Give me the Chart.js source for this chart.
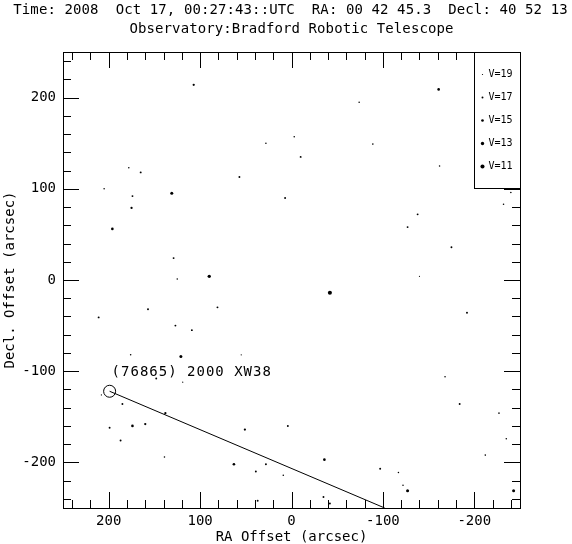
<!DOCTYPE html>
<html>
<head>
<meta charset="utf-8">
<script src="https://cdn.jsdelivr.net/npm/chart.js@4/dist/chart.umd.min.js"></script>
<style>
  body { margin: 0; background: #fff; }
</style>
</head>
<body>
<canvas id="finderChart" width="572" height="544"></canvas>
<script>
const titleLines = [
  "Time: 2008  Oct 17, 00:27:43::UTC  RA: 00 42 45.3  Decl: 40 52 13",
  "Observatory:Bradford Robotic Telescope"
];

// star field: offsets in arcsec and V magnitude
const raOffset = [107, -74, -240, -161, 28, -3, -10, -89, -162, 7, -138, -127, -175, -140, -232,
  178, 165, 57, 205, 174, 131, 175, 196, 129, 90, 125, 81, 211, 157, 127, 109, 176, 121, 55,
  148, 119, 208, 185, 138, 199, 174, 160, 187, 51, 139, 63, 39, 28, 37, -42, -192, -168, -184,
  -227, -235, -212, 4, 9, -36, -35, -42, -97, -117, -122, -127, -243];
const declOffset = [214, 195, 96, 209, 150, 157, 135, 149, 125, 90, 72, 58, 36, 4, 83,
  123, 118, 113, 100, 92, 95, 79, 56, 24, 4, 1, -30, -41, -32, -50, -55, -82, -84, -82,
  -108, -112, -126, -136, -146, -162, -160, -158, -176, -164, -194, -202, -210, -202, -242, -14, -36, -106, -136,
  -146, -174, -192, -160, -214, -197, -238, -245, -207, -211, -225, -231, -231];
const vMag = [16, 18, 18, 15, 18, 18, 17, 18, 18, 17, 17, 17, 17, 19, 18,
  18, 17, 17, 18, 17, 14, 16, 15, 17, 13, 18, 17, 17, 17, 17, 17, 18, 14, 19,
  17, 19, 19, 17, 16, 17, 15, 16, 17, 16, 18, 15, 17, 17, 17, 11, 17, 18, 17,
  18, 18, 18, 17, 18, 15, 17, 17, 17, 18, 18, 14, 14];

const legendMags = [19, 17, 15, 13, 11];
const tickValues = [-200, -100, 0, 100, 200];

// asteroid: circle at start, track line to later position
const targetName = "(76865) 2000 XW38";
const trackRa = [199, -102];
const trackDecl = [-122, -250];

const monoFont = { family: "'DejaVu Sans Mono', monospace", size: 14 };

function magRadius(m) {
  return Math.max(0.6, 0.6 + (19 - m) * 0.18);
}

const stars = raOffset.map((x, i) => ({ x: x, y: declOffset[i] }));
const track = trackRa.map((x, i) => ({ x: x, y: trackDecl[i] }));

const framePlugin = {
  id: 'framePlugin',
  afterDraw(chart) {
    const ctx = chart.ctx;
    const area = chart.chartArea;
    const xs = chart.scales.x;
    const ys = chart.scales.y;
    ctx.save();
    ctx.strokeStyle = '#000';
    ctx.lineWidth = 1;

    // frame
    ctx.strokeRect(Math.round(area.left) + 0.5, Math.round(area.top) + 0.5,
      Math.round(area.right - area.left), Math.round(area.bottom - area.top));

    // inward ticks on all sides
    ctx.beginPath();
    for (let v = -240; v <= 240; v += 20) {
      const len = v % 100 === 0 ? 16 : 8;
      const px = Math.round(xs.getPixelForValue(v)) + 0.5;
      ctx.moveTo(px, area.bottom); ctx.lineTo(px, area.bottom - len);
      ctx.moveTo(px, area.top); ctx.lineTo(px, area.top + len);
      const py = Math.round(ys.getPixelForValue(v)) + 0.5;
      ctx.moveTo(area.left, py); ctx.lineTo(area.left + len, py);
      ctx.moveTo(area.right, py); ctx.lineTo(area.right - len, py);
    }
    ctx.stroke();

    // magnitude key
    const boxL = Math.round(area.right) - 46 + 0.5;
    const boxT = Math.round(area.top) + 0.5;
    ctx.fillStyle = '#fff';
    ctx.fillRect(boxL, boxT, 46, 136);
    ctx.strokeRect(boxL, boxT, 46, 136);
    ctx.fillStyle = '#000';
    ctx.font = "10px 'DejaVu Sans Mono', monospace";
    ctx.textBaseline = 'middle';
    ctx.textAlign = 'left';
    legendMags.forEach((m, i) => {
      const cy = boxT + 22 + i * 23;
      ctx.beginPath();
      ctx.arc(boxL + 8, cy, magRadius(m), 0, Math.PI * 2);
      ctx.fill();
      ctx.fillText('V=' + m, boxL + 14, cy);
    });

    // target label
    const tx = xs.getPixelForValue(trackRa[0]);
    const ty = ys.getPixelForValue(trackDecl[0]);
    ctx.font = "14px 'DejaVu Sans Mono', monospace";
    ctx.letterSpacing = '1px';
    ctx.fillText(targetName, tx + 2, ty - 19);

    // header lines
    ctx.letterSpacing = '0.1px';
    ctx.textAlign = 'center';
    const cx = (area.left + area.right) / 2;
    ctx.fillText(titleLines[0], cx - 1, 10);
    ctx.fillText(titleLines[1], cx, 29);
    ctx.restore();
  }
};

const ctx = document.getElementById('finderChart');
new Chart(ctx, {
  type: 'scatter',
  data: {
    datasets: [
      {
        label: 'stars',
        data: stars,
        backgroundColor: '#000',
        borderWidth: 0,
        pointRadius: vMag.map(magRadius),
        pointHoverRadius: vMag.map(magRadius)
      },
      {
        label: 'track',
        type: 'line',
        data: track,
        borderColor: '#000',
        borderWidth: 1,
        pointRadius: 0,
        fill: false
      },
      {
        label: 'target',
        data: [track[0]],
        pointRadius: 6,
        backgroundColor: 'rgba(0,0,0,0)',
        borderColor: '#000',
        borderWidth: 1
      }
    ]
  },
  options: {
    responsive: false,
    animation: false,
    devicePixelRatio: 1,
    layout: { padding: { top: 52, right: 52, left: 0, bottom: 0 } },
    plugins: {
      legend: { display: false },
      tooltip: { enabled: false }
    },
    scales: {
      x: {
        type: 'linear',
        reverse: true,
        min: -250,
        max: 250,
        afterBuildTicks: (s) => { s.ticks = tickValues.map(v => ({ value: v })); },
        afterFit: (s) => { s.height = 36; },
        grid: { display: false, drawTicks: false },
        border: { display: false },
        ticks: { color: '#000', font: monoFont, padding: 5, maxRotation: 0 },
        title: { display: true, text: 'RA Offset (arcsec)', color: '#000',
          font: { family: monoFont.family, size: 14, lineHeight: 1 }, padding: { top: 0, bottom: 0 } }
      },
      y: {
        type: 'linear',
        min: -250,
        max: 250,
        afterBuildTicks: (s) => { s.ticks = tickValues.map(v => ({ value: v })); },
        afterFit: (s) => { s.width = 63; },
        grid: { display: false, drawTicks: false },
        border: { display: false },
        ticks: { color: '#000', font: monoFont, padding: 7 },
        title: { display: true, text: 'Decl. Offset (arcsec)', color: '#000', font: monoFont, padding: { top: 2, bottom: 0 } }
      }
    }
  },
  plugins: [framePlugin]
});
</script>
</body>
</html>
